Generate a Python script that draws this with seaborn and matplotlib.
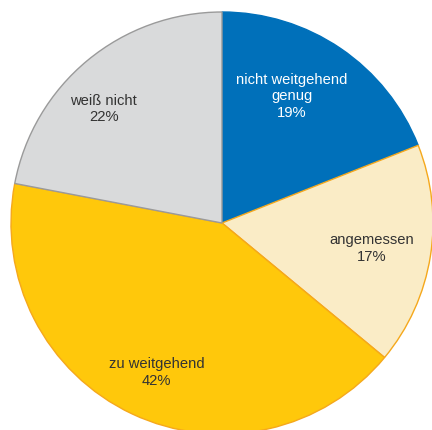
import matplotlib
matplotlib.use("Agg")
import matplotlib.pyplot as plt
import seaborn as sns

categories = ["nicht weitgehend\ngenug", "angemessen", "zu weitgehend", "weiß nicht"]
values = [19, 17, 42, 22]

colors = ["#0070BA", "#FAECC6", "#FFC80B", "#D9DADB"]
edge_colors = ["#0070BA", "#F5A81C", "#F5A81C", "#9A9A9A"]
text_colors = ["white", "#333333", "#333333", "#333333"]
# label centres (in pie radius units), layout only
label_pos = [(0.33, 0.60), (0.71, -0.12), (-0.31, -0.71), (-0.56, 0.54)]

sns.set_theme(style="white")
plt.rcParams["font.family"] = ["Liberation Sans", "DejaVu Sans"]

fig = plt.figure(figsize=(4.32, 4.30), dpi=100)
ax = fig.add_axes([11 / 432, (430 - 223 - 211) / 430, 422 / 432, 422 / 430])

wedges, _ = ax.pie(values, colors=colors, startangle=90, counterclock=False,
                   radius=1, wedgeprops=dict(linewidth=1.0))
for w, ec in zip(wedges, edge_colors):
    w.set_edgecolor(ec)

for cat, v, (x, y), tc in zip(categories, values, label_pos, text_colors):
    ax.text(x, y, f"{cat}\n{v}%", ha="center", va="center", color=tc,
            fontsize=10.6, linespacing=1.25)

ax.set_xlim(-1, 1)
ax.set_ylim(-1, 1)
ax.set_aspect("equal")
ax.axis("off")
fig.savefig("out.png", dpi=100)
